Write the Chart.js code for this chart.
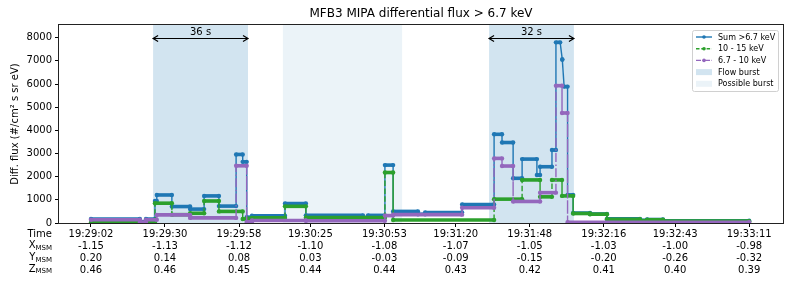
<!DOCTYPE html>
<html>
<head>
<meta charset="utf-8">
<script src="https://cdn.jsdelivr.net/npm/chart.js@4.4.1/dist/chart.umd.min.js"></script>
<style>
  html, body { margin: 0; padding: 0; background: #fff; }
</style>
</head>
<body>
<canvas id="fluxChart" width="793" height="288"></canvas>
<script>
// time is seconds after 19:29:00
const tickSec = [2, 30, 58, 85, 113, 140, 168, 196, 223, 251];
const timeLabels = ['19:29:02', '19:29:30', '19:29:58', '19:30:25', '19:30:53', '19:31:20', '19:31:48', '19:32:16', '19:32:43', '19:33:11'];
const xMsm = ['-1.15', '-1.13', '-1.12', '-1.10', '-1.08', '-1.07', '-1.05', '-1.03', '-1.00', '-0.98'];
const yMsm = ['0.20', '0.14', '0.08', '0.03', '-0.03', '-0.09', '-0.15', '-0.20', '-0.26', '-0.32'];
const zMsm = ['0.46', '0.46', '0.45', '0.44', '0.44', '0.43', '0.42', '0.41', '0.40', '0.39'];
const fluxTicks = [0, 1000, 2000, 3000, 4000, 5000, 6000, 7000, 8000];

const flowBursts = [[25.5, 61.4], [152.6, 184.7]];
const flowLabels = ['36 s', '32 s'];
const possibleBursts = [[74.6, 119.7]];

// Sum >6.7 keV, one value per constant run
const sumStart = [2.0, 20.5, 22.8, 26.2, 26.9, 32.6, 39.5, 44.8, 50.4, 56.9, 59.4, 60.9, 62.9, 75.4, 83.3, 104.9, 106.8, 113.2, 116.3, 125.7, 128.4, 142.4, 154.5, 157.5, 161.7, 165.1, 170.7, 171.9, 176.4, 177.9, 180.3, 181.0, 182.3, 184.4, 190.8, 197.2, 209.7, 212.4, 218.4];
const sumEnd = [20.5, 22.8, 26.2, 26.9, 32.6, 39.5, 44.8, 50.4, 56.9, 59.4, 60.9, 62.9, 75.4, 83.3, 104.9, 106.8, 113.2, 116.3, 125.7, 128.4, 142.4, 154.5, 157.5, 161.7, 165.1, 170.7, 171.9, 176.4, 177.9, 179.5, 180.3, 182.3, 184.4, 190.8, 197.2, 209.7, 212.4, 218.4, 251.0];
const sumVal = [170, 60, 170, 950, 1210, 710, 600, 1170, 730, 2960, 2640, 250, 310, 840, 330, 220, 330, 2500, 500, 380, 455, 800, 3830, 3475, 1930, 2760, 2070, 2430, 3150, 7800, 7060, 5890, 1215, 430, 390, 180, 120, 150, 100];

// 10 - 15 keV
const hiStart = [2.0, 26.2, 32.6, 39.5, 44.8, 50.4, 59.4, 60.9, 62.9, 75.4, 83.3, 113.2, 116.3, 154.5, 165.1, 171.9, 176.4, 180.2, 184.4, 190.8, 197.2, 209.7, 212.4, 218.4];
const hiEnd = [26.2, 32.6, 39.5, 44.8, 50.4, 59.4, 60.9, 62.9, 75.4, 83.3, 113.2, 116.3, 154.5, 165.1, 171.9, 176.4, 180.2, 184.4, 190.8, 197.2, 209.7, 212.4, 218.4, 251.0];
const hiVal = [20, 855, 360, 420, 950, 500, 170, 200, 220, 720, 230, 2180, 130, 1030, 1860, 1130, 1860, 1170, 410, 380, 160, 100, 140, 80];

// 6.7 - 10 keV
const loStart = [2.0, 20.5, 22.8, 26.9, 39.5, 56.9, 60.9, 62.9, 83.3, 113.2, 116.3, 142.4, 154.5, 157.5, 161.7, 171.9, 177.9, 180.2, 182.3];
const loEnd = [20.5, 22.8, 26.9, 39.5, 56.9, 60.9, 62.9, 83.3, 113.2, 116.3, 142.4, 154.5, 157.5, 161.7, 171.9, 177.9, 180.2, 182.3, 251.0];
const loVal = [140, 40, 140, 350, 220, 2470, 50, 110, 100, 320, 360, 660, 2790, 2460, 930, 1310, 5930, 4750, 30];

const FONT = '"DejaVu Sans", sans-serif';
const C_SUM = '#1f77b4', C_HI = '#2ca02c', C_LO = '#9467bd';

function buildSteps(starts, ends, vals) {
    const pts = [];
    starts.forEach((s, i) => {
        pts.push({x: s, y: vals[i]});
        pts.push({x: ends[i], y: vals[i]});
    });
    return pts;
}

const flat = ctx => Math.abs(ctx.p0.parsed.y - ctx.p1.parsed.y) < 1e-6;

function stepDataset(label, data, color, dash, order) {
    return {
        label: label,
        data: data,
        borderColor: color,
        backgroundColor: color,
        borderWidth: 1.4,
        pointRadius: 2.2,
        pointHoverRadius: 2.2,
        pointBorderWidth: 0,
        order: order,
        segment: {
            borderWidth: ctx => flat(ctx) ? 3.6 : 1.4,
            borderDash: ctx => flat(ctx) ? [] : dash
        }
    };
}

// shaded bursts, arrows, title, frame, legend, row labels
const decorations = {
    id: 'decorations',
    beforeDatasetsDraw(chart) {
        const {ctx, chartArea: a, scales: {x}} = chart;
        ctx.save();
        ctx.fillStyle = 'rgba(31,119,180,0.09)';
        possibleBursts.forEach(([s, e]) => {
            ctx.fillRect(x.getPixelForValue(s), a.top, x.getPixelForValue(e) - x.getPixelForValue(s), a.bottom - a.top);
        });
        ctx.fillStyle = 'rgba(31,119,180,0.2)';
        flowBursts.forEach(([s, e]) => {
            ctx.fillRect(x.getPixelForValue(s), a.top, x.getPixelForValue(e) - x.getPixelForValue(s), a.bottom - a.top);
        });
        ctx.restore();
    },
    afterDatasetsDraw(chart) {
        const {ctx, chartArea: a, scales: {x, y}} = chart;
        ctx.save();
        // arrows over flow bursts
        const ya = Math.round(y.getPixelForValue(8000)) + 0.5;
        ctx.strokeStyle = '#000';
        ctx.fillStyle = '#000';
        ctx.lineWidth = 1.2;
        flowBursts.forEach(([s, e], i) => {
            const x1 = x.getPixelForValue(s), x2 = x.getPixelForValue(e);
            ctx.beginPath();
            ctx.moveTo(x1, ya); ctx.lineTo(x2, ya);
            ctx.moveTo(x1 + 5, ya - 3); ctx.lineTo(x1, ya); ctx.lineTo(x1 + 5, ya + 3);
            ctx.moveTo(x2 - 5, ya - 3); ctx.lineTo(x2, ya); ctx.lineTo(x2 - 5, ya + 3);
            ctx.stroke();
            ctx.font = '10px ' + FONT;
            ctx.textAlign = 'center';
            ctx.textBaseline = 'bottom';
            ctx.fillText(flowLabels[i], (x1 + x2) / 2, ya - 1.5);
        });
        // frame
        ctx.strokeStyle = '#222';
        ctx.lineWidth = 1;
        ctx.strokeRect(a.left - 0.5, a.top - 0.5, a.right - a.left + 1, a.bottom - a.top + 1);
        // title
        ctx.font = '12px ' + FONT;
        ctx.textAlign = 'center';
        ctx.textBaseline = 'middle';
        ctx.fillText('MFB3 MIPA differential flux > 6.7 keV', (a.left + a.right) / 2, 14);
        // legend
        const lx = a.right - 91, ly = a.top + 5, lw = 86, lh = 61;
        ctx.fillStyle = 'rgba(255,255,255,0.85)';
        ctx.strokeStyle = '#d0d0d0';
        ctx.beginPath();
        ctx.roundRect(lx + 0.5, ly + 0.5, lw, lh, 2);
        ctx.fill(); ctx.stroke();
        const items = [
            {t: 'Sum >6.7 keV', c: C_SUM, dash: []},
            {t: '10 - 15 keV', c: C_HI, dash: [3.5, 1.8]},
            {t: '6.7 - 10 keV', c: C_LO, dash: [5, 1.5, 1, 1.5]},
            {t: 'Flow burst', box: 'rgba(31,119,180,0.2)'},
            {t: 'Possible burst', box: 'rgba(31,119,180,0.09)'}
        ];
        ctx.font = '8px ' + FONT;
        ctx.textAlign = 'left';
        ctx.textBaseline = 'middle';
        items.forEach((it, i) => {
            const ry = ly + 7 + i * 11.7;
            if (it.box) {
                ctx.fillStyle = it.box;
                ctx.fillRect(lx + 4, ry - 3, 16, 6);
            } else {
                ctx.strokeStyle = it.c;
                ctx.lineWidth = 1.4;
                ctx.setLineDash(it.dash);
                ctx.beginPath();
                ctx.moveTo(lx + 4, ry); ctx.lineTo(lx + 20, ry);
                ctx.stroke();
                ctx.setLineDash([]);
                ctx.fillStyle = it.c;
                ctx.beginPath();
                ctx.arc(lx + 12, ry, 1.8, 0, Math.PI * 2);
                ctx.fill();
            }
            ctx.fillStyle = '#000';
            ctx.fillText(it.t, lx + 26, ry + 0.5);
        });
        ctx.restore();
    },
    afterDraw(chart) {
        const {ctx, scales: {x}} = chart;
        ctx.save();
        ctx.fillStyle = '#000';
        ctx.textBaseline = 'top';
        const rows = [['Time', ''], ['X', 'MSM'], ['Y', 'MSM'], ['Z', 'MSM']];
        rows.forEach(([main, sub], i) => {
            const ty = x.top + 6 + i * 11.7;
            ctx.font = '10px ' + FONT;
            const w1 = ctx.measureText(main).width;
            ctx.font = '7px ' + FONT;
            const w2 = sub ? ctx.measureText(sub).width : 0;
            const x0 = 52 - w1 - w2;
            ctx.font = '10px ' + FONT;
            ctx.textAlign = 'left';
            ctx.fillText(main, x0, ty);
            if (sub) {
                ctx.font = '7px ' + FONT;
                ctx.fillText(sub, x0 + w1, ty + 4);
            }
        });
        ctx.restore();
    }
};

const ctx = document.getElementById('fluxChart').getContext('2d');
const fluxChart = new Chart(ctx, {
    type: 'line',
    data: {
        datasets: [
            stepDataset('Sum >6.7 keV', buildSteps(sumStart, sumEnd, sumVal), C_SUM, [], 3),
            stepDataset('10 - 15 keV', buildSteps(hiStart, hiEnd, hiVal), C_HI, [5.5, 2.4], 2),
            stepDataset('6.7 - 10 keV', buildSteps(loStart, loEnd, loVal), C_LO, [9, 2.4, 1.5, 2.4], 1)
        ]
    },
    options: {
        responsive: false,
        animation: false,
        devicePixelRatio: 1,
        layout: {padding: {top: 25, right: 10, bottom: 0, left: 0}},
        plugins: {
            legend: {display: false},
            tooltip: {enabled: false}
        },
        scales: {
            x: {
                type: 'linear',
                min: -10.1,
                max: 263.8,
                afterBuildTicks: s => { s.ticks = tickSec.map(v => ({value: v})); },
                afterFit: s => { s.height = 65; },
                grid: {drawOnChartArea: false, drawTicks: true, tickLength: 4, color: '#000'},
                border: {display: false},
                ticks: {
                    autoSkip: false,
                    maxRotation: 0,
                    padding: 2,
                    color: '#000',
                    font: {family: FONT, size: 10, lineHeight: 1.17},
                    callback: (v, i) => [timeLabels[i], xMsm[i], yMsm[i], zMsm[i]]
                }
            },
            y: {
                min: 0,
                max: 8550,
                afterBuildTicks: s => { s.ticks = fluxTicks.map(v => ({value: v})); },
                afterFit: s => { s.width = 59; },
                grid: {drawOnChartArea: false, drawTicks: true, tickLength: 4, color: '#000'},
                border: {display: false},
                ticks: {
                    padding: 3,
                    color: '#000',
                    font: {family: FONT, size: 10},
                    callback: v => String(v)
                },
                title: {
                    display: true,
                    text: 'Diff. flux (#/cm² s sr eV)',
                    color: '#000',
                    font: {family: FONT, size: 10},
                    padding: {top: 9, bottom: 0}
                }
            }
        }
    },
    plugins: [decorations]
});
</script>
</body>
</html>
